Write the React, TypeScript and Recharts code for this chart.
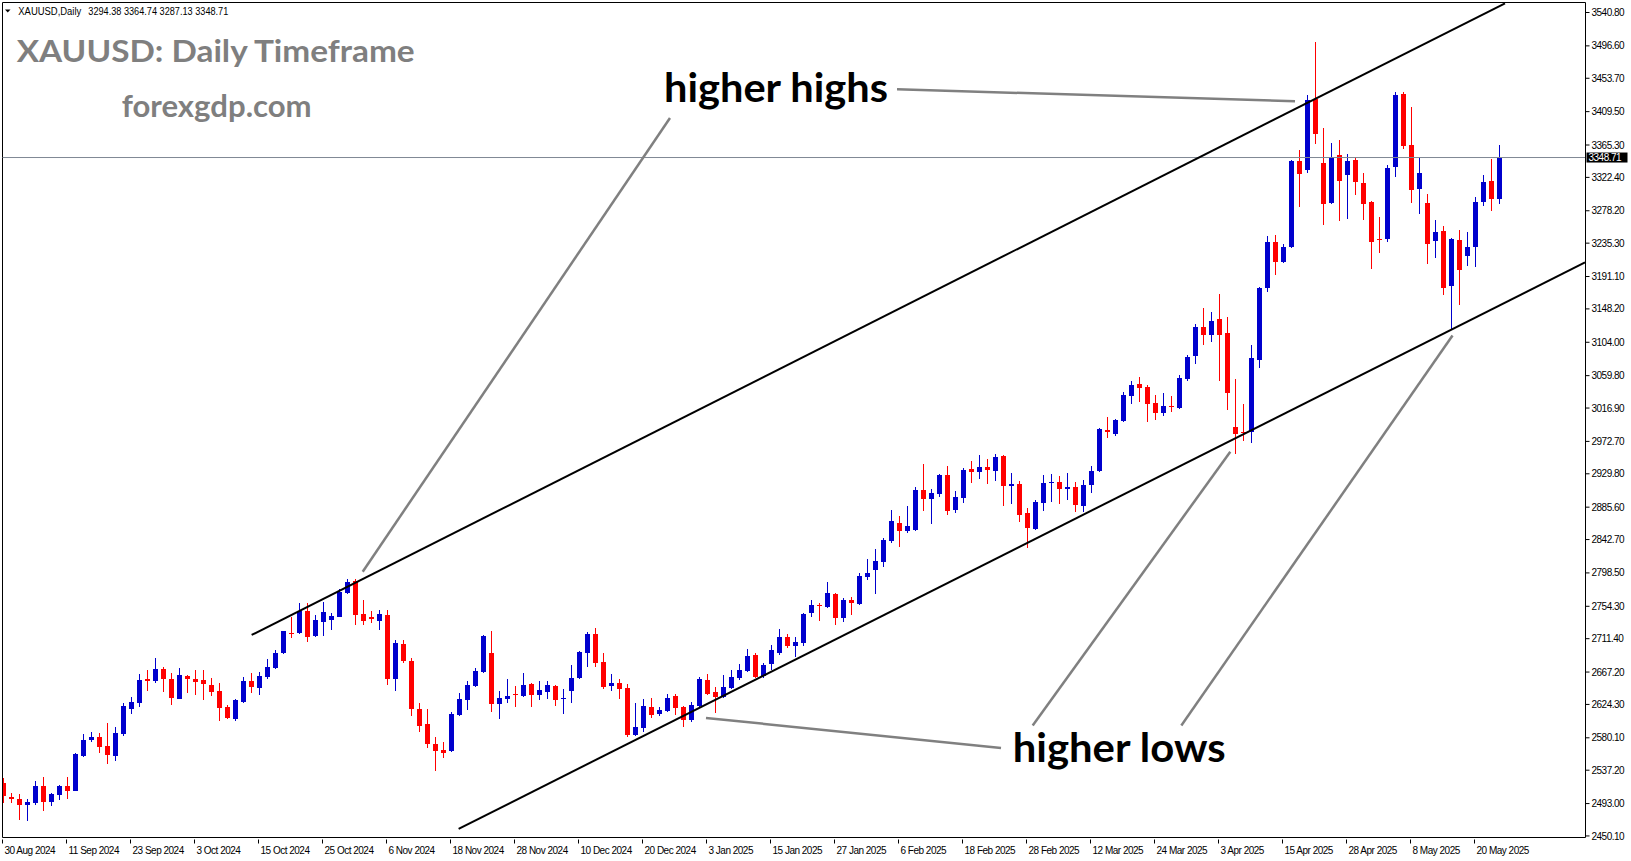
import React from 'react';
import { ComposedChart, Bar, XAxis, YAxis, ReferenceLine } from 'recharts';

// trading days shown on the chart (one candle each)
const dates = [
  '30 Aug 2024',
  '2 Sep 2024', '3 Sep 2024', '4 Sep 2024', '5 Sep 2024', '6 Sep 2024', '9 Sep 2024', '10 Sep 2024',
  '11 Sep 2024', '12 Sep 2024', '13 Sep 2024', '16 Sep 2024', '17 Sep 2024', '18 Sep 2024', '19 Sep 2024',
  '20 Sep 2024', '23 Sep 2024', '24 Sep 2024', '25 Sep 2024', '26 Sep 2024', '27 Sep 2024', '30 Sep 2024',
  '1 Oct 2024', '2 Oct 2024', '3 Oct 2024', '4 Oct 2024', '7 Oct 2024', '8 Oct 2024', '9 Oct 2024',
  '10 Oct 2024', '11 Oct 2024', '14 Oct 2024', '15 Oct 2024', '16 Oct 2024', '17 Oct 2024', '18 Oct 2024',
  '21 Oct 2024', '22 Oct 2024', '23 Oct 2024', '24 Oct 2024', '25 Oct 2024', '28 Oct 2024', '29 Oct 2024',
  '30 Oct 2024', '31 Oct 2024',
  '1 Nov 2024', '4 Nov 2024', '5 Nov 2024', '6 Nov 2024', '7 Nov 2024', '8 Nov 2024', '11 Nov 2024',
  '12 Nov 2024', '13 Nov 2024', '14 Nov 2024', '15 Nov 2024', '18 Nov 2024', '19 Nov 2024', '20 Nov 2024',
  '21 Nov 2024', '22 Nov 2024', '25 Nov 2024', '26 Nov 2024', '27 Nov 2024', '28 Nov 2024', '29 Nov 2024',
  '2 Dec 2024', '3 Dec 2024', '4 Dec 2024', '5 Dec 2024', '6 Dec 2024', '9 Dec 2024', '10 Dec 2024',
  '11 Dec 2024', '12 Dec 2024', '13 Dec 2024', '16 Dec 2024', '17 Dec 2024', '18 Dec 2024', '19 Dec 2024',
  '20 Dec 2024', '23 Dec 2024', '24 Dec 2024', '26 Dec 2024', '27 Dec 2024', '30 Dec 2024', '31 Dec 2024',
  '2 Jan 2025', '3 Jan 2025', '6 Jan 2025', '7 Jan 2025', '8 Jan 2025', '9 Jan 2025', '10 Jan 2025',
  '13 Jan 2025', '14 Jan 2025', '15 Jan 2025', '16 Jan 2025', '17 Jan 2025', '20 Jan 2025', '21 Jan 2025',
  '22 Jan 2025', '23 Jan 2025', '24 Jan 2025', '27 Jan 2025', '28 Jan 2025', '29 Jan 2025', '30 Jan 2025',
  '31 Jan 2025',
  '3 Feb 2025', '4 Feb 2025', '5 Feb 2025', '6 Feb 2025', '7 Feb 2025', '10 Feb 2025', '11 Feb 2025',
  '12 Feb 2025', '13 Feb 2025', '14 Feb 2025', '17 Feb 2025', '18 Feb 2025', '19 Feb 2025', '20 Feb 2025',
  '21 Feb 2025', '24 Feb 2025', '25 Feb 2025', '26 Feb 2025', '27 Feb 2025', '28 Feb 2025',
  '3 Mar 2025', '4 Mar 2025', '5 Mar 2025', '6 Mar 2025', '7 Mar 2025', '10 Mar 2025', '11 Mar 2025',
  '12 Mar 2025', '13 Mar 2025', '14 Mar 2025', '17 Mar 2025', '18 Mar 2025', '19 Mar 2025', '20 Mar 2025',
  '21 Mar 2025', '24 Mar 2025', '25 Mar 2025', '26 Mar 2025', '27 Mar 2025', '28 Mar 2025', '31 Mar 2025',
  '1 Apr 2025', '2 Apr 2025', '3 Apr 2025', '4 Apr 2025', '7 Apr 2025', '8 Apr 2025', '9 Apr 2025',
  '10 Apr 2025', '11 Apr 2025', '14 Apr 2025', '15 Apr 2025', '16 Apr 2025', '17 Apr 2025', '21 Apr 2025',
  '22 Apr 2025', '23 Apr 2025', '24 Apr 2025', '25 Apr 2025', '28 Apr 2025', '29 Apr 2025', '30 Apr 2025',
  '1 May 2025', '2 May 2025', '5 May 2025', '6 May 2025', '7 May 2025', '8 May 2025', '9 May 2025',
  '12 May 2025', '13 May 2025', '14 May 2025', '15 May 2025', '16 May 2025', '19 May 2025', '20 May 2025',
  '21 May 2025', '22 May 2025', '23 May 2025',
];

const opens = [
  2519.8, 2501.3, 2499.5, 2491.1, 2493.3, 2516.3, 2495.5, 2504.4, 2516.3, 2510.1,
  2556.0, 2577.2, 2580.8, 2569.3, 2556.0, 2584.7, 2618.3, 2625.8, 2657.6, 2655.4,
  2671.3, 2658.0, 2631.5, 2662.0, 2658.0, 2656.7, 2650.1, 2642.1, 2620.5, 2605.0,
  2627.1, 2655.4, 2646.6, 2661.1, 2673.0, 2692.0, 2719.4, 2718.5, 2748.1, 2715.4,
  2734.0, 2736.0, 2740.6, 2771.5, 2787.8, 2744.1, 2740.6, 2734.8, 2742.8, 2658.0,
  2704.4, 2681.9, 2618.3, 2598.4, 2571.9, 2564.0, 2562.6, 2610.3, 2630.2, 2648.7,
  2666.8, 2692.0, 2624.5, 2631.1, 2638.1, 2635.5, 2651.4, 2637.3, 2641.2, 2648.7,
  2631.1, 2642.6, 2658.9, 2692.9, 2717.6, 2680.5, 2648.7, 2652.7, 2646.5, 2583.9,
  2593.6, 2620.9, 2611.6, 2616.1, 2635.5, 2620.9, 2604.2, 2622.7, 2656.7, 2640.3,
  2633.7, 2646.5, 2659.8, 2668.6, 2689.4, 2662.4, 2677.9, 2692.9, 2713.6, 2702.2,
  2706.1, 2745.0, 2756.0, 2753.8, 2770.2, 2739.3, 2762.2, 2757.4, 2793.1, 2802.8,
  2813.4, 2841.2, 2864.2, 2854.5, 2855.4, 2908.4, 2896.4, 2903.1, 2928.2, 2881.9,
  2898.2, 2935.7, 2932.6, 2938.4, 2934.0, 2953.4, 2914.1, 2916.3, 2877.4, 2857.1,
  2891.6, 2917.2, 2919.0, 2910.1, 2911.9, 2887.2, 2915.0, 2933.5, 2987.4, 2982.5,
  2999.7, 3033.3, 3048.7, 3044.8, 3023.1, 3010.8, 3020.0, 3017.0, 3055.8, 3086.3,
  3124.2, 3114.1, 3134.8, 3116.3, 2991.8, 2985.6, 2985.6, 3081.0, 3176.3, 3237.0,
  3210.8, 3230.6, 3344.1, 3332.2, 3426.2, 3341.0, 3288.5, 3352.1, 3326.0, 3345.4,
  3315.0, 3289.8, 3241.2, 3240.8, 3336.6, 3432.9, 3365.3, 3307.0, 3288.5, 3238.2,
  3251.4, 3179.0, 3239.5, 3218.7, 3230.2, 3290.2, 3317.6, 3294.38,
];

const highs = [
  2526.5, 2506.6, 2505.7, 2498.6, 2523.4, 2527.8, 2506.6, 2517.6, 2527.8, 2559.6,
  2585.2, 2588.3, 2586.9, 2600.2, 2594.0, 2625.8, 2634.1, 2664.7, 2670.0, 2685.8,
  2673.5, 2665.5, 2672.6, 2663.3, 2670.0, 2670.0, 2658.9, 2652.3, 2623.6, 2631.5,
  2661.1, 2665.5, 2667.7, 2684.5, 2696.4, 2722.0, 2740.6, 2758.2, 2758.2, 2742.8,
  2760.5, 2745.9, 2776.8, 2790.0, 2790.5, 2762.7, 2748.5, 2749.4, 2749.4, 2709.7,
  2709.7, 2685.4, 2626.7, 2618.3, 2581.6, 2575.0, 2614.3, 2639.0, 2655.4, 2673.0,
  2716.0, 2721.6, 2642.6, 2658.5, 2648.7, 2665.5, 2653.2, 2655.4, 2655.8, 2650.0,
  2644.8, 2676.6, 2695.6, 2720.7, 2725.1, 2692.0, 2664.6, 2658.0, 2650.9, 2625.8,
  2631.5, 2633.3, 2620.9, 2637.7, 2637.7, 2622.0, 2628.0, 2661.1, 2664.6, 2647.9,
  2663.3, 2669.9, 2677.9, 2697.7, 2692.0, 2678.8, 2703.1, 2724.2, 2717.6, 2713.6,
  2745.0, 2762.7, 2759.1, 2786.0, 2771.9, 2765.3, 2766.6, 2798.0, 2817.0, 2830.2,
  2844.8, 2881.9, 2873.9, 2887.2, 2911.9, 2942.8, 2910.1, 2930.0, 2940.1, 2907.0,
  2937.1, 2946.3, 2954.7, 2949.0, 2956.0, 2955.0, 2930.9, 2920.3, 2884.1, 2895.1,
  2928.2, 2929.5, 2926.9, 2931.3, 2918.5, 2921.6, 2940.1, 2990.0, 3005.5, 3002.4,
  3038.6, 3052.7, 3058.0, 3047.4, 3034.2, 3036.4, 3032.8, 3060.7, 3087.2, 3128.2,
  3149.4, 3144.1, 3167.9, 3137.0, 3055.4, 3022.3, 3100.4, 3177.7, 3245.0, 3245.5,
  3234.2, 3345.0, 3358.7, 3431.5, 3502.2, 3388.3, 3368.0, 3371.9, 3353.4, 3349.0,
  3328.2, 3291.1, 3270.4, 3338.8, 3436.0, 3436.0, 3415.6, 3349.0, 3300.4, 3266.0,
  3258.0, 3242.0, 3252.7, 3250.1, 3296.4, 3325.6, 3346.8, 3364.74,
];

const lows = [
  2493.3, 2494.0, 2471.3, 2470.0, 2490.5, 2483.6, 2490.0, 2497.8, 2499.1, 2509.2,
  2555.2, 2574.1, 2559.6, 2545.4, 2549.9, 2582.5, 2611.7, 2621.4, 2642.6, 2653.2,
  2641.2, 2623.6, 2631.1, 2639.0, 2636.8, 2630.2, 2635.5, 2602.4, 2604.6, 2602.8,
  2626.7, 2639.0, 2636.8, 2657.6, 2670.8, 2691.1, 2712.8, 2717.6, 2707.5, 2714.1,
  2715.0, 2722.9, 2739.7, 2770.6, 2729.5, 2729.5, 2731.8, 2722.9, 2650.1, 2642.1,
  2679.6, 2609.4, 2588.3, 2566.2, 2536.5, 2552.9, 2561.5, 2609.4, 2616.9, 2647.9,
  2665.9, 2614.8, 2604.6, 2625.8, 2620.5, 2633.7, 2620.5, 2630.2, 2631.1, 2622.7,
  2611.6, 2626.7, 2657.6, 2674.4, 2674.4, 2645.2, 2642.6, 2632.0, 2581.6, 2582.5,
  2588.3, 2606.8, 2609.4, 2613.9, 2610.3, 2594.9, 2601.5, 2621.4, 2636.8, 2613.4,
  2632.4, 2644.3, 2656.7, 2667.7, 2658.9, 2658.9, 2669.9, 2689.4, 2698.6, 2686.7,
  2702.2, 2740.6, 2735.3, 2752.5, 2730.0, 2734.0, 2742.8, 2756.5, 2789.6, 2771.0,
  2806.8, 2838.6, 2833.3, 2851.8, 2854.5, 2881.0, 2863.8, 2899.5, 2875.2, 2878.3,
  2891.6, 2918.1, 2923.4, 2915.9, 2920.7, 2887.6, 2890.3, 2866.4, 2832.0, 2856.0,
  2881.0, 2892.9, 2890.3, 2895.1, 2879.7, 2879.7, 2904.8, 2932.6, 2977.7, 2980.5,
  2998.9, 3022.3, 3024.9, 2998.9, 3001.1, 3006.8, 3012.1, 3016.1, 3053.2, 3075.7,
  3100.4, 3104.8, 3053.2, 3014.7, 2955.6, 2973.7, 2970.2, 3069.9, 3170.0, 3193.1,
  3209.5, 3229.3, 3283.6, 3328.7, 3366.6, 3259.3, 3287.0, 3264.6, 3267.3, 3299.1,
  3266.0, 3201.5, 3222.7, 3237.3, 3323.4, 3360.4, 3288.9, 3273.9, 3207.7, 3215.6,
  3166.6, 3120.3, 3153.4, 3205.0, 3203.7, 3284.9, 3278.3, 3287.13,
];

const closes = [
  2503.1, 2498.6, 2491.1, 2494.7, 2516.3, 2495.5, 2505.7, 2516.3, 2510.1, 2558.7,
  2577.2, 2581.6, 2568.4, 2557.4, 2586.9, 2622.2, 2627.1, 2656.7, 2655.4, 2671.3,
  2658.5, 2633.3, 2663.3, 2657.6, 2654.5, 2651.8, 2641.2, 2620.0, 2606.8, 2630.2,
  2655.4, 2647.9, 2662.0, 2673.5, 2692.0, 2721.6, 2717.2, 2748.5, 2714.1, 2736.2,
  2747.2, 2741.5, 2773.7, 2786.0, 2742.8, 2734.8, 2737.1, 2744.1, 2657.6, 2705.3,
  2682.3, 2617.8, 2596.2, 2571.5, 2562.6, 2560.5, 2611.6, 2631.1, 2650.1, 2668.6,
  2715.0, 2624.5, 2633.3, 2635.9, 2636.4, 2650.1, 2637.3, 2643.5, 2650.1, 2630.2,
  2632.9, 2659.8, 2694.2, 2717.6, 2679.6, 2647.9, 2652.7, 2645.2, 2583.9, 2594.9,
  2622.7, 2610.8, 2616.9, 2633.3, 2620.0, 2604.2, 2623.6, 2658.0, 2638.1, 2634.6,
  2647.4, 2660.7, 2669.9, 2688.5, 2661.1, 2676.6, 2696.4, 2713.6, 2702.2, 2707.0,
  2744.1, 2756.0, 2754.3, 2771.5, 2739.3, 2762.7, 2759.1, 2794.5, 2798.4, 2814.3,
  2842.1, 2867.3, 2854.5, 2860.7, 2908.4, 2896.4, 2904.4, 2928.2, 2881.0, 2898.6,
  2934.8, 2932.6, 2938.4, 2934.8, 2951.6, 2914.1, 2916.3, 2875.7, 2858.5, 2892.5,
  2918.1, 2919.0, 2910.1, 2911.9, 2888.5, 2915.0, 2933.5, 2989.1, 2985.6, 3001.1,
  3034.2, 3047.4, 3043.4, 3022.7, 3010.8, 3019.6, 3019.2, 3056.7, 3084.5, 3124.2,
  3114.1, 3132.2, 3114.1, 3037.3, 2982.1, 2983.4, 3083.6, 3176.3, 3236.5, 3210.8,
  3230.6, 3344.1, 3327.3, 3424.9, 3380.3, 3287.6, 3349.4, 3317.6, 3344.1, 3316.3,
  3287.6, 3237.3, 3239.9, 3334.8, 3431.5, 3364.0, 3305.7, 3328.2, 3234.2, 3250.1,
  3176.3, 3240.8, 3200.2, 3229.8, 3289.8, 3316.3, 3293.8, 3348.71,
];

const tickDates = [
  '30 Aug 2024', '11 Sep 2024', '23 Sep 2024', '3 Oct 2024', '15 Oct 2024', '25 Oct 2024',
  '6 Nov 2024', '18 Nov 2024', '28 Nov 2024', '10 Dec 2024', '20 Dec 2024', '3 Jan 2025',
  '15 Jan 2025', '27 Jan 2025', '6 Feb 2025', '18 Feb 2025', '28 Feb 2025', '12 Mar 2025',
  '24 Mar 2025', '3 Apr 2025', '15 Apr 2025', '28 Apr 2025', '8 May 2025', '20 May 2025',
];

const priceTicks = [
  3540.8, 3496.6, 3453.7, 3409.5, 3365.3, 3322.4, 3278.2, 3235.3, 3191.1, 3148.2, 3104.0,
  3059.8, 3016.9, 2972.7, 2929.8, 2885.6, 2842.7, 2798.5, 2754.3, 2711.4, 2667.2, 2624.3,
  2580.1, 2537.2, 2493.0, 2450.1,
];

// drawn trend lines, [barIndex, price] pairs
const channelLines = [
  [[31.02, 2716.3], [187.69, 3553.0]],
  [[56.89, 2459.5], [197.69, 3209.9]],
];
const pointerLines = [
  [[44.9, 2800.1], [83.31, 3401.1]],
  [[111.69, 3439.2], [161.44, 3423.2]],
  [[87.81, 2606.4], [124.69, 2566.6]],
  [[128.65, 2596.4], [153.35, 2959.1]],
  [[147.23, 2596.4], [181.13, 3113.0]],
];

const BULL = '#0000CD';
const BEAR = '#FF0000';
const X_MIN = -0.125;
const X_MAX = 197.75;
const Y_MIN = 2448.05;
const Y_MAX = 3554.05;

const candles = dates.map((date, i) => ({
  i,
  date,
  open: opens[i],
  high: highs[i],
  low: lows[i],
  close: closes[i],
  range: [lows[i], highs[i]],
}));

const tickIdx = tickDates.map((d) => dates.indexOf(d));
const last = candles[candles.length - 1];

const Candle = (props: any) => {
  const { x, y, width, height, payload } = props;
  if (!payload || y == null) return null;
  const top = Math.min(y, y + height);
  const h = Math.abs(height);
  const k = h / (payload.high - payload.low || 1);
  const cx = Math.floor(x + width / 2);
  const bTop = Math.round(top + (payload.high - Math.max(payload.open, payload.close)) * k);
  const bBot = Math.round(top + (payload.high - Math.min(payload.open, payload.close)) * k);
  const color = payload.close >= payload.open ? BULL : BEAR;
  const wTop = Math.round(top);
  const wBot = Math.round(top + h);
  return (
    <g>
      <rect x={cx} y={wTop} width={1} height={Math.max(1, wBot - wTop)} fill={color} />
      <rect x={cx - 2} y={bTop} width={5} height={Math.max(1, bBot - bTop)} fill={color} />
    </g>
  );
};

const DateTick = (props: any) => {
  const { x, y, payload } = props;
  return (
    <g>
      <line x1={x - 1} x2={x - 1} y1={y} y2={y + 4} stroke="#000" />
      <text x={x + 1} y={y + 14.5} fontSize={10} fontFamily="'Liberation Sans', Arial, sans-serif"
        letterSpacing={-0.5} fill="#000">
        {dates[payload.value]}
      </text>
    </g>
  );
};

const PriceTag = (props: any) => {
  const { viewBox } = props;
  const x = viewBox.x + viewBox.width;
  const y = viewBox.y;
  return (
    <g>
      <rect x={x + 1} y={y - 5} width={41} height={10} fill="#000" />
      <text x={x + 3} y={y + 3.5} fontSize={10} fontFamily="'Liberation Sans', Arial, sans-serif"
        letterSpacing={-0.5} fill="#fff">
        {last.close.toFixed(2)}
      </text>
    </g>
  );
};

export default function App() {
  const bold = { fontFamily: "Lato, 'Open Sans', sans-serif", fontWeight: 700 };
  return (
    <div style={{ position: 'absolute', left: 0, top: 0, width: 1631, height: 861, background: '#fff' }}>
      <ComposedChart
        width={1631}
        height={861}
        data={candles}
        margin={{ top: 2.5, right: 0, bottom: 0, left: 2.5 }}
      >
        <XAxis
          dataKey="i"
          type="number"
          domain={[X_MIN, X_MAX]}
          allowDataOverflow
          ticks={tickIdx}
          interval={0}
          height={23.5}
          axisLine={{ stroke: '#000' }}
          tickLine={false}
          tickSize={0}
          tick={<DateTick />}
        />
        <YAxis
          orientation="right"
          type="number"
          domain={[Y_MIN, Y_MAX]}
          allowDataOverflow
          ticks={priceTicks}
          interval={0}
          width={45.5}
          tickSize={4}
          tickMargin={2}
          axisLine={{ stroke: '#000' }}
          tickLine={{ stroke: '#000' }}
          tick={{ fill: '#000', fontSize: 10, fontFamily: "'Liberation Sans', Arial, sans-serif", letterSpacing: -0.5 }}
          tickFormatter={(v: number) => v.toFixed(2)}
        />
        <ReferenceLine x={X_MIN} stroke="#000" ifOverflow="visible" />
        <ReferenceLine y={Y_MAX} stroke="#000" ifOverflow="visible" />
        <ReferenceLine y={last.close} stroke="#7f8894" ifOverflow="visible" label={PriceTag} />
        <Bar dataKey="range" barSize={5} shape={Candle} isAnimationActive={false} />
        {channelLines.map((s, k) => (
          <ReferenceLine
            key={'c' + k}
            segment={[{ x: s[0][0], y: s[0][1] }, { x: s[1][0], y: s[1][1] }]}
            stroke="#000"
            strokeWidth={2}
            ifOverflow="visible"
          />
        ))}
        {pointerLines.map((s, k) => (
          <ReferenceLine
            key={'p' + k}
            segment={[{ x: s[0][0], y: s[0][1] }, { x: s[1][0], y: s[1][1] }]}
            stroke="#808080"
            strokeWidth={2.5}
            ifOverflow="visible"
          />
        ))}
      </ComposedChart>
      <svg width={1631} height={861} style={{ position: 'absolute', left: 0, top: 0, pointerEvents: 'none' }}>
        <polygon points="5,9.5 10.5,9.5 7.75,12.5" fill="#000" />
        <text x={18.3} y={14.5} fontSize={10} fontFamily="'Liberation Sans', Arial, sans-serif" fill="#000"
          textLength={63} lengthAdjust="spacingAndGlyphs">
          XAUUSD,Daily
        </text>
        <text x={88.3} y={14.5} fontSize={10} fontFamily="'Liberation Sans', Arial, sans-serif" fill="#000"
          textLength={140} lengthAdjust="spacingAndGlyphs">
          {`${last.open.toFixed(2)} ${last.high.toFixed(2)} ${last.low.toFixed(2)} ${last.close.toFixed(2)}`}
        </text>
        <text x={16.7} y={62} fontSize={30} {...bold} fill="#7f7f7f" textLength={398} lengthAdjust="spacingAndGlyphs">
          XAUUSD: Daily Timeframe
        </text>
        <text x={121.7} y={116.5} fontSize={30} {...bold} fill="#7f7f7f" textLength={190} lengthAdjust="spacingAndGlyphs">
          forexgdp.com
        </text>
        <text x={664} y={101.5} fontSize={40} {...bold} fill="#000" textLength={224} lengthAdjust="spacingAndGlyphs">
          higher highs
        </text>
        <text x={1012.7} y={762} fontSize={40} {...bold} fill="#000" textLength={213} lengthAdjust="spacingAndGlyphs">
          higher lows
        </text>
      </svg>
    </div>
  );
}
